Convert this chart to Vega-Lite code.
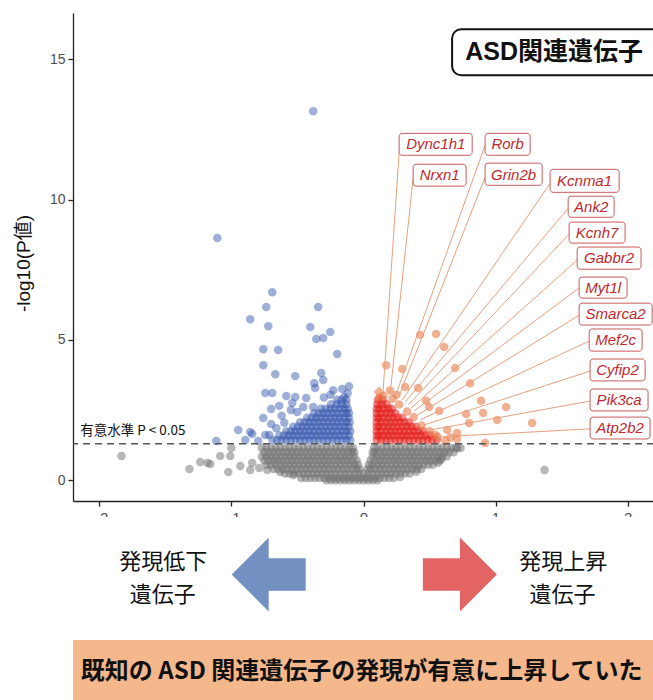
{
  "$schema": "https://vega.github.io/schema/vega-lite/v6.json",
  "padding": {"left": 14, "top": 13, "right": 0, "bottom": 0},
  "background": "white",
  "spacing": 16,
  "bounds": "flush",
  "config": {"view": {"stroke": null}, "font": "Liberation Sans"},
  "datasets": {
    "ns": [
      {"x":-0.77,"y":1.15},{"x":-0.735,"y":1.15},{"x":-0.7,"y":1.15},{"x":-0.665,"y":1.15},{"x":-0.63,"y":1.15},{"x":-0.595,"y":1.15},{"x":-0.56,"y":1.15},{"x":-0.525,"y":1.15},{"x":-0.49,"y":1.15},{"x":-0.455,"y":1.15},{"x":-0.42,"y":1.15},{"x":-0.385,"y":1.15},{"x":-0.35,"y":1.15},{"x":-0.315,"y":1.15},{"x":-0.28,"y":1.15},{"x":-0.245,"y":1.15},{"x":-0.21,"y":1.15},{"x":-0.175,"y":1.15},{"x":-0.14,"y":1.15},{"x":-0.105,"y":1.15},{"x":-0.08,"y":1.15},
      {"x":0.08,"y":1.15},{"x":0.105,"y":1.15},{"x":0.14,"y":1.15},{"x":0.175,"y":1.15},{"x":0.21,"y":1.15},{"x":0.245,"y":1.15},{"x":0.28,"y":1.15},{"x":0.315,"y":1.15},{"x":0.35,"y":1.15},{"x":0.385,"y":1.15},{"x":0.42,"y":1.15},{"x":0.455,"y":1.15},{"x":0.49,"y":1.15},{"x":0.525,"y":1.15},{"x":0.56,"y":1.15},{"x":0.595,"y":1.15},{"x":0.63,"y":1.15},{"x":0.665,"y":1.15},{"x":0.7,"y":1.15},{"x":0.735,"y":1.15},
      {"x":-0.752,"y":1.0},{"x":-0.717,"y":1.0},{"x":-0.682,"y":1.0},{"x":-0.647,"y":1.0},{"x":-0.612,"y":1.0},{"x":-0.577,"y":1.0},{"x":-0.542,"y":1.0},{"x":-0.507,"y":1.0},{"x":-0.472,"y":1.0},{"x":-0.437,"y":1.0},{"x":-0.402,"y":1.0},{"x":-0.367,"y":1.0},{"x":-0.332,"y":1.0},{"x":-0.297,"y":1.0},{"x":-0.262,"y":1.0},{"x":-0.227,"y":1.0},{"x":-0.192,"y":1.0},{"x":-0.157,"y":1.0},{"x":-0.122,"y":1.0},{"x":-0.087,"y":1.0},{"x":-0.07,"y":1.0},
      {"x":0.07,"y":1.0},{"x":0.088,"y":1.0},{"x":0.123,"y":1.0},{"x":0.158,"y":1.0},{"x":0.193,"y":1.0},{"x":0.228,"y":1.0},{"x":0.263,"y":1.0},{"x":0.298,"y":1.0},{"x":0.333,"y":1.0},{"x":0.368,"y":1.0},{"x":0.403,"y":1.0},{"x":0.438,"y":1.0},{"x":0.473,"y":1.0},{"x":0.508,"y":1.0},{"x":0.543,"y":1.0},{"x":0.578,"y":1.0},{"x":0.613,"y":1.0},{"x":0.648,"y":1.0},{"x":0.683,"y":1.0},
      {"x":-0.77,"y":0.85},{"x":-0.735,"y":0.85},{"x":-0.7,"y":0.85},{"x":-0.665,"y":0.85},{"x":-0.63,"y":0.85},{"x":-0.595,"y":0.85},{"x":-0.56,"y":0.85},{"x":-0.525,"y":0.85},{"x":-0.49,"y":0.85},{"x":-0.455,"y":0.85},{"x":-0.42,"y":0.85},{"x":-0.385,"y":0.85},{"x":-0.35,"y":0.85},{"x":-0.315,"y":0.85},{"x":-0.28,"y":0.85},{"x":-0.245,"y":0.85},{"x":-0.21,"y":0.85},{"x":-0.175,"y":0.85},{"x":-0.14,"y":0.85},{"x":-0.105,"y":0.85},{"x":-0.07,"y":0.85},
      {"x":0.07,"y":0.85},{"x":0.105,"y":0.85},{"x":0.14,"y":0.85},{"x":0.175,"y":0.85},{"x":0.21,"y":0.85},{"x":0.245,"y":0.85},{"x":0.28,"y":0.85},{"x":0.315,"y":0.85},{"x":0.35,"y":0.85},{"x":0.385,"y":0.85},{"x":0.42,"y":0.85},{"x":0.455,"y":0.85},{"x":0.49,"y":0.85},{"x":0.525,"y":0.85},{"x":0.56,"y":0.85},{"x":0.595,"y":0.85},{"x":0.63,"y":0.85},
      {"x":-0.752,"y":0.7},{"x":-0.717,"y":0.7},{"x":-0.682,"y":0.7},{"x":-0.647,"y":0.7},{"x":-0.612,"y":0.7},{"x":-0.577,"y":0.7},{"x":-0.542,"y":0.7},{"x":-0.507,"y":0.7},{"x":-0.472,"y":0.7},{"x":-0.437,"y":0.7},{"x":-0.402,"y":0.7},{"x":-0.367,"y":0.7},{"x":-0.332,"y":0.7},{"x":-0.297,"y":0.7},{"x":-0.262,"y":0.7},{"x":-0.227,"y":0.7},{"x":-0.192,"y":0.7},{"x":-0.157,"y":0.7},{"x":-0.122,"y":0.7},{"x":-0.087,"y":0.7},{"x":-0.052,"y":0.7},
      {"x":0.053,"y":0.7},{"x":0.088,"y":0.7},{"x":0.123,"y":0.7},{"x":0.158,"y":0.7},{"x":0.193,"y":0.7},{"x":0.228,"y":0.7},{"x":0.263,"y":0.7},{"x":0.298,"y":0.7},{"x":0.333,"y":0.7},{"x":0.368,"y":0.7},{"x":0.403,"y":0.7},{"x":0.438,"y":0.7},{"x":0.473,"y":0.7},{"x":0.508,"y":0.7},{"x":0.543,"y":0.7},{"x":0.578,"y":0.7},
      {"x":-0.735,"y":0.55},{"x":-0.7,"y":0.55},{"x":-0.665,"y":0.55},{"x":-0.63,"y":0.55},{"x":-0.595,"y":0.55},{"x":-0.56,"y":0.55},{"x":-0.525,"y":0.55},{"x":-0.49,"y":0.55},{"x":-0.455,"y":0.55},{"x":-0.42,"y":0.55},{"x":-0.385,"y":0.55},{"x":-0.35,"y":0.55},{"x":-0.315,"y":0.55},{"x":-0.28,"y":0.55},{"x":-0.245,"y":0.55},{"x":-0.21,"y":0.55},{"x":-0.175,"y":0.55},{"x":-0.14,"y":0.55},{"x":-0.105,"y":0.55},{"x":-0.07,"y":0.55},{"x":-0.04,"y":0.55},
      {"x":0.04,"y":0.55},{"x":0.07,"y":0.55},{"x":0.105,"y":0.55},{"x":0.14,"y":0.55},{"x":0.175,"y":0.55},{"x":0.21,"y":0.55},{"x":0.245,"y":0.55},{"x":0.28,"y":0.55},{"x":0.315,"y":0.55},{"x":0.35,"y":0.55},{"x":0.385,"y":0.55},{"x":0.42,"y":0.55},{"x":0.455,"y":0.55},{"x":0.49,"y":0.55},{"x":0.525,"y":0.55},
      {"x":-0.682,"y":0.4},{"x":-0.647,"y":0.4},{"x":-0.612,"y":0.4},{"x":-0.577,"y":0.4},{"x":-0.542,"y":0.4},{"x":-0.507,"y":0.4},{"x":-0.472,"y":0.4},{"x":-0.437,"y":0.4},{"x":-0.402,"y":0.4},{"x":-0.367,"y":0.4},{"x":-0.332,"y":0.4},{"x":-0.297,"y":0.4},{"x":-0.262,"y":0.4},{"x":-0.227,"y":0.4},{"x":-0.192,"y":0.4},{"x":-0.157,"y":0.4},{"x":-0.122,"y":0.4},{"x":-0.087,"y":0.4},{"x":-0.052,"y":0.4},{"x":-0.03,"y":0.4},
      {"x":0.03,"y":0.4},{"x":0.053,"y":0.4},{"x":0.088,"y":0.4},{"x":0.123,"y":0.4},{"x":0.158,"y":0.4},{"x":0.193,"y":0.4},{"x":0.228,"y":0.4},{"x":0.263,"y":0.4},{"x":0.298,"y":0.4},{"x":0.333,"y":0.4},{"x":0.368,"y":0.4},{"x":0.403,"y":0.4},{"x":0.438,"y":0.4},
      {"x":-0.595,"y":0.24},{"x":-0.56,"y":0.24},{"x":-0.525,"y":0.24},{"x":-0.49,"y":0.24},{"x":-0.455,"y":0.24},{"x":-0.42,"y":0.24},{"x":-0.385,"y":0.24},{"x":-0.35,"y":0.24},{"x":-0.315,"y":0.24},{"x":-0.28,"y":0.24},{"x":-0.245,"y":0.24},{"x":-0.21,"y":0.24},{"x":-0.175,"y":0.24},{"x":-0.14,"y":0.24},{"x":-0.105,"y":0.24},{"x":-0.07,"y":0.24},{"x":-0.035,"y":0.24},{"x":0,"y":0.24},{"x":0.035,"y":0.24},{"x":0.07,"y":0.24},{"x":0.105,"y":0.24},{"x":0.14,"y":0.24},{"x":0.175,"y":0.24},{"x":0.21,"y":0.24},{"x":0.245,"y":0.24},{"x":0.28,"y":0.24},{"x":0.315,"y":0.24},{"x":0.35,"y":0.24},
      {"x":-0.472,"y":0.08},{"x":-0.437,"y":0.08},{"x":-0.402,"y":0.08},{"x":-0.367,"y":0.08},{"x":-0.332,"y":0.08},{"x":-0.297,"y":0.08},{"x":-0.262,"y":0.08},{"x":-0.227,"y":0.08},{"x":-0.192,"y":0.08},{"x":-0.157,"y":0.08},{"x":-0.122,"y":0.08},{"x":-0.087,"y":0.08},{"x":-0.052,"y":0.08},{"x":-0.017,"y":0.08},{"x":0.018,"y":0.08},{"x":0.053,"y":0.08},{"x":0.088,"y":0.08},{"x":0.123,"y":0.08},{"x":0.158,"y":0.08},{"x":0.193,"y":0.08},{"x":0.228,"y":0.08},
      {"x":-0.28,"y":0},{"x":-0.245,"y":0},{"x":-0.21,"y":0},{"x":-0.175,"y":0},{"x":-0.14,"y":0},{"x":-0.105,"y":0},{"x":-0.07,"y":0},{"x":-0.035,"y":0},{"x":0,"y":0},{"x":0.035,"y":0},{"x":0.07,"y":0},{"x":0.105,"y":0},
      {"x":-1.833,"y":0.865},{"x":-1.318,"y":0.402},{"x":-1.182,"y":0.616},{"x":-1.16,"y":0.58},{"x":-1.236,"y":0.652},{"x":-1.085,"y":0.865},{"x":-1.009,"y":0.865},{"x":-1.001,"y":1.15},{"x":-1.024,"y":0.295},{"x":-0.933,"y":0.509},{"x":-0.843,"y":0.616},{"x":-0.858,"y":0.367},{"x":-0.79,"y":0.438},{"x":-0.729,"y":0.367},{"x":-0.631,"y":0.295},{"x":-0.532,"y":0.189},
      {"x":1.371,"y":0.367},{"x":0.565,"y":0.62},{"x":0.277,"y":0.117},{"x":0.4,"y":0.3},{"x":0.59,"y":0.75},{"x":0.71,"y":1.15}
    ],
    "down": [
      {"x":-0.69,"y":1.43},{"x":-0.655,"y":1.43},{"x":-0.62,"y":1.43},{"x":-0.585,"y":1.43},{"x":-0.55,"y":1.43},{"x":-0.515,"y":1.43},{"x":-0.48,"y":1.43},{"x":-0.445,"y":1.43},{"x":-0.41,"y":1.43},{"x":-0.375,"y":1.43},{"x":-0.34,"y":1.43},{"x":-0.305,"y":1.43},{"x":-0.27,"y":1.43},{"x":-0.235,"y":1.43},{"x":-0.2,"y":1.43},{"x":-0.165,"y":1.43},{"x":-0.13,"y":1.43},{"x":-0.1,"y":1.43},
      {"x":-0.637,"y":1.59},{"x":-0.602,"y":1.59},{"x":-0.567,"y":1.59},{"x":-0.532,"y":1.59},{"x":-0.497,"y":1.59},{"x":-0.462,"y":1.59},{"x":-0.427,"y":1.59},{"x":-0.392,"y":1.59},{"x":-0.357,"y":1.59},{"x":-0.322,"y":1.59},{"x":-0.287,"y":1.59},{"x":-0.252,"y":1.59},{"x":-0.217,"y":1.59},{"x":-0.182,"y":1.59},{"x":-0.147,"y":1.59},{"x":-0.112,"y":1.59},
      {"x":-0.585,"y":1.75},{"x":-0.55,"y":1.75},{"x":-0.515,"y":1.75},{"x":-0.48,"y":1.75},{"x":-0.445,"y":1.75},{"x":-0.41,"y":1.75},{"x":-0.375,"y":1.75},{"x":-0.34,"y":1.75},{"x":-0.305,"y":1.75},{"x":-0.27,"y":1.75},{"x":-0.235,"y":1.75},{"x":-0.2,"y":1.75},{"x":-0.165,"y":1.75},{"x":-0.13,"y":1.75},{"x":-0.1,"y":1.75},
      {"x":-0.532,"y":1.91},{"x":-0.497,"y":1.91},{"x":-0.462,"y":1.91},{"x":-0.427,"y":1.91},{"x":-0.392,"y":1.91},{"x":-0.357,"y":1.91},{"x":-0.322,"y":1.91},{"x":-0.287,"y":1.91},{"x":-0.252,"y":1.91},{"x":-0.217,"y":1.91},{"x":-0.182,"y":1.91},{"x":-0.147,"y":1.91},{"x":-0.112,"y":1.91},
      {"x":-0.48,"y":2.07},{"x":-0.445,"y":2.07},{"x":-0.41,"y":2.07},{"x":-0.375,"y":2.07},{"x":-0.34,"y":2.07},{"x":-0.305,"y":2.07},{"x":-0.27,"y":2.07},{"x":-0.235,"y":2.07},{"x":-0.2,"y":2.07},{"x":-0.165,"y":2.07},{"x":-0.13,"y":2.07},{"x":-0.105,"y":2.07},
      {"x":-0.427,"y":2.23},{"x":-0.392,"y":2.23},{"x":-0.357,"y":2.23},{"x":-0.322,"y":2.23},{"x":-0.287,"y":2.23},{"x":-0.252,"y":2.23},{"x":-0.217,"y":2.23},{"x":-0.182,"y":2.23},{"x":-0.147,"y":2.23},{"x":-0.112,"y":2.23},
      {"x":-0.375,"y":2.39},{"x":-0.34,"y":2.39},{"x":-0.305,"y":2.39},{"x":-0.27,"y":2.39},{"x":-0.235,"y":2.39},{"x":-0.2,"y":2.39},{"x":-0.165,"y":2.39},{"x":-0.13,"y":2.39},{"x":-0.11,"y":2.39},
      {"x":-0.322,"y":2.55},{"x":-0.287,"y":2.55},{"x":-0.252,"y":2.55},{"x":-0.217,"y":2.55},{"x":-0.182,"y":2.55},{"x":-0.147,"y":2.55},{"x":-0.12,"y":2.55},
      {"x":-0.245,"y":2.71},{"x":-0.2,"y":2.71},{"x":-0.165,"y":2.71},{"x":-0.13,"y":2.71},
      {"x":-0.2,"y":2.87},{"x":-0.165,"y":2.87},{"x":-0.13,"y":2.87},
      {"x":-0.381,"y":13.15},{"x":-1.107,"y":8.63},{"x":-0.691,"y":6.7},{"x":-0.737,"y":6.17},{"x":-0.858,"y":5.74},{"x":-0.721,"y":5.49},{"x":-0.343,"y":6.17},{"x":-0.403,"y":5.46},{"x":-0.358,"y":5.03},{"x":-0.305,"y":5.07},{"x":-0.252,"y":5.28},{"x":-0.759,"y":4.67},{"x":-0.646,"y":4.64},{"x":-0.199,"y":4.5},{"x":-0.759,"y":4.1},{"x":-0.668,"y":3.78},{"x":-0.517,"y":3.71},{"x":-0.32,"y":3.82},{"x":-0.305,"y":3.57},{"x":-0.373,"y":3.46},{"x":-0.366,"y":3.29},{"x":-0.744,"y":3.11},{"x":-0.691,"y":3.11},{"x":-0.229,"y":3.21},{"x":-0.161,"y":3.25},{"x":-0.146,"y":2.97},{"x":-0.585,"y":3.0},{"x":-0.517,"y":2.97},{"x":-0.434,"y":2.93},{"x":-0.638,"y":2.65},{"x":-0.699,"y":2.54},{"x":-0.54,"y":2.75},{"x":-0.502,"y":2.43},{"x":-0.456,"y":2.61},{"x":-0.381,"y":2.61},{"x":-0.759,"y":2.22},{"x":-0.699,"y":2.0},{"x":-0.949,"y":1.79},{"x":-0.858,"y":1.72},{"x":-0.843,"y":1.65},{"x":-0.744,"y":1.61},{"x":-0.714,"y":1.61},{"x":-1.115,"y":1.4},{"x":-0.797,"y":1.4},{"x":-0.895,"y":1.43},
      {"x":-0.62,"y":2.3},{"x":-0.55,"y":2.5},{"x":-0.3,"y":2.95},{"x":-0.25,"y":3.05},{"x":-0.12,"y":3.1},{"x":-0.11,"y":3.35},{"x":-0.6,"y":2.05},{"x":-0.66,"y":1.85}
    ],
    "up": [
      {"x":0.1,"y":1.43},{"x":0.135,"y":1.43},{"x":0.17,"y":1.43},{"x":0.205,"y":1.43},{"x":0.24,"y":1.43},{"x":0.275,"y":1.43},{"x":0.31,"y":1.43},{"x":0.345,"y":1.43},{"x":0.38,"y":1.43},{"x":0.415,"y":1.43},{"x":0.45,"y":1.43},{"x":0.485,"y":1.43},{"x":0.52,"y":1.43},{"x":0.555,"y":1.43},
      {"x":0.1,"y":1.59},{"x":0.118,"y":1.59},{"x":0.153,"y":1.59},{"x":0.188,"y":1.59},{"x":0.223,"y":1.59},{"x":0.258,"y":1.59},{"x":0.293,"y":1.59},{"x":0.328,"y":1.59},{"x":0.363,"y":1.59},{"x":0.398,"y":1.59},{"x":0.433,"y":1.59},{"x":0.468,"y":1.59},{"x":0.503,"y":1.59},
      {"x":0.1,"y":1.75},{"x":0.135,"y":1.75},{"x":0.17,"y":1.75},{"x":0.205,"y":1.75},{"x":0.24,"y":1.75},{"x":0.275,"y":1.75},{"x":0.31,"y":1.75},{"x":0.345,"y":1.75},{"x":0.38,"y":1.75},{"x":0.415,"y":1.75},{"x":0.45,"y":1.75},
      {"x":0.1,"y":1.91},{"x":0.118,"y":1.91},{"x":0.153,"y":1.91},{"x":0.188,"y":1.91},{"x":0.223,"y":1.91},{"x":0.258,"y":1.91},{"x":0.293,"y":1.91},{"x":0.328,"y":1.91},{"x":0.363,"y":1.91},{"x":0.398,"y":1.91},
      {"x":0.1,"y":2.07},{"x":0.135,"y":2.07},{"x":0.17,"y":2.07},{"x":0.205,"y":2.07},{"x":0.24,"y":2.07},{"x":0.275,"y":2.07},{"x":0.31,"y":2.07},{"x":0.345,"y":2.07},
      {"x":0.1,"y":2.23},{"x":0.118,"y":2.23},{"x":0.153,"y":2.23},{"x":0.188,"y":2.23},{"x":0.223,"y":2.23},{"x":0.258,"y":2.23},{"x":0.293,"y":2.23},
      {"x":0.1,"y":2.39},{"x":0.135,"y":2.39},{"x":0.17,"y":2.39},{"x":0.205,"y":2.39},{"x":0.24,"y":2.39},
      {"x":0.1,"y":2.55},{"x":0.118,"y":2.55},{"x":0.153,"y":2.55},{"x":0.188,"y":2.55},{"x":0.215,"y":2.55},
      {"x":0.105,"y":2.71},{"x":0.14,"y":2.71},{"x":0.175,"y":2.71},
      {"x":0.11,"y":2.87},{"x":0.145,"y":2.87}
    ],
    "asd": [
      {"x":0.429,"y":5.18},{"x":0.55,"y":5.21},{"x":0.611,"y":4.75},{"x":0.172,"y":4.1},{"x":0.293,"y":3.96},{"x":0.694,"y":4.0},{"x":0.808,"y":3.46},{"x":0.316,"y":3.32},{"x":0.414,"y":3.29},{"x":0.475,"y":2.83},{"x":0.573,"y":2.47},{"x":0.497,"y":2.61},{"x":0.891,"y":2.83},{"x":1.08,"y":2.61},{"x":0.906,"y":2.4},{"x":0.777,"y":2.36},{"x":1.012,"y":2.15},{"x":0.8,"y":2.04},{"x":1.277,"y":2.04},{"x":0.634,"y":1.79},{"x":0.709,"y":1.68},{"x":0.921,"y":1.33},{"x":0.543,"y":1.61},{"x":0.709,"y":1.47},
      {"x":0.44,"y":1.95},{"x":0.5,"y":1.75},{"x":0.56,"y":1.55},{"x":0.62,"y":1.4},{"x":0.66,"y":1.52},{"x":0.38,"y":2.25},{"x":0.33,"y":2.45},{"x":0.27,"y":2.7},{"x":0.22,"y":2.9},{"x":0.15,"y":3.0},{"x":0.2,"y":3.2},{"x":0.25,"y":3.05},{"x":0.12,"y":2.95}
    ],
    "labels": [
      {"gene":"Dync1h1","lx":0.547,"ly":11.97,"bx1":0.27,"bx2":0.823,"by1":11.58,"by2":12.36,"sx":0.27,"sy":11.69,"ex":0.149,"ey":3.21},
      {"gene":"Rorb","lx":1.092,"ly":11.97,"bx1":0.921,"bx2":1.262,"by1":11.58,"by2":12.36,"sx":0.921,"sy":11.94,"ex":0.24,"ey":2.97},
      {"gene":"Nrxn1","lx":0.577,"ly":10.87,"bx1":0.376,"bx2":0.777,"by1":10.48,"by2":11.26,"sx":0.376,"sy":10.76,"ex":0.202,"ey":3.11},
      {"gene":"Grin2b","lx":1.137,"ly":10.89,"bx1":0.921,"bx2":1.353,"by1":10.51,"by2":11.3,"sx":0.921,"sy":10.8,"ex":0.263,"ey":2.93},
      {"gene":"Kcnma1","lx":1.674,"ly":10.67,"bx1":1.413,"bx2":1.936,"by1":10.26,"by2":11.08,"sx":1.413,"sy":10.58,"ex":0.293,"ey":2.86},
      {"gene":"Ank2","lx":1.724,"ly":9.73,"bx1":1.55,"bx2":1.898,"by1":9.37,"by2":10.12,"sx":1.55,"sy":9.69,"ex":0.316,"ey":2.79},
      {"gene":"Kcnh7","lx":1.769,"ly":8.82,"bx1":1.557,"bx2":1.981,"by1":8.45,"by2":9.2,"sx":1.557,"sy":8.77,"ex":0.338,"ey":2.68},
      {"gene":"Gabbr2","lx":1.86,"ly":7.91,"bx1":1.618,"bx2":2.102,"by1":7.52,"by2":8.31,"sx":1.618,"sy":7.84,"ex":0.361,"ey":2.57},
      {"gene":"Myt1l","lx":1.815,"ly":6.86,"bx1":1.633,"bx2":1.996,"by1":6.49,"by2":7.24,"sx":1.633,"sy":6.85,"ex":0.384,"ey":2.47},
      {"gene":"Smarca2","lx":1.909,"ly":5.92,"bx1":1.633,"bx2":2.186,"by1":5.53,"by2":6.31,"sx":1.633,"sy":5.88,"ex":0.407,"ey":2.32},
      {"gene":"Mef2c","lx":1.909,"ly":4.99,"bx1":1.709,"bx2":2.11,"by1":4.6,"by2":5.39,"sx":1.709,"sy":4.96,"ex":0.429,"ey":2.15},
      {"gene":"Cyfip2","lx":1.924,"ly":3.93,"bx1":1.716,"bx2":2.133,"by1":3.54,"by2":4.32,"sx":1.716,"sy":3.89,"ex":0.459,"ey":1.97},
      {"gene":"Pik3ca","lx":1.936,"ly":2.86,"bx1":1.716,"bx2":2.155,"by1":2.47,"by2":3.25,"sx":1.716,"sy":2.82,"ex":0.505,"ey":1.79},
      {"gene":"Atp2b2","lx":1.943,"ly":1.86,"bx1":1.716,"bx2":2.17,"by1":1.47,"by2":2.25,"sx":1.716,"sy":1.83,"ex":0.558,"ey":1.54}
    ]
  },
  "vconcat": [
    {
      "width": 581,
      "height": 488,
      "layer": [
        {
          "data": {"name": "ns"},
          "mark": {"type": "circle", "size": 72, "opacity": 0.5, "color": "#6f6f6f"},
          "encoding": {
            "x": {"field": "x", "type": "quantitative", "scale": {"domain": [-2.2, 2.2], "nice": false, "zero": false},
              "axis": {"values": [-2, -1, 0, 1, 2], "format": "d", "title": null, "grid": false, "labelFontSize": 15, "labelColor": "#4d4d4d", "labelFont": "Liberation Sans", "tickSize": 5, "labelPadding": 4, "domainColor": "#222", "tickColor": "#222", "domainWidth": 1.3, "tickWidth": 1.3}},
            "y": {"field": "y", "type": "quantitative", "scale": {"domain": [-0.74, 16.65], "nice": false, "zero": false},
              "axis": {"values": [0, 5, 10, 15], "format": "d", "title": "-log10(P値)", "grid": false, "labelFontSize": 14, "labelColor": "#4d4d4d", "labelFont": "Liberation Sans", "tickSize": 5, "labelPadding": 3, "domainColor": "#222", "tickColor": "#222", "domainWidth": 1.3, "tickWidth": 1.3, "titleFontSize": 19, "titleFontWeight": "normal", "titleColor": "#111", "titleFont": "Liberation Sans, Noto Sans CJK JP", "titleX": -40, "titleY": 250, "titleBaseline": "bottom", "titleAngle": 270}}
          }
        },
        {
          "data": {"name": "down"},
          "mark": {"type": "circle", "size": 72, "opacity": 0.45, "color": "#2a4ea8"},
          "encoding": {"x": {"field": "x", "type": "quantitative"}, "y": {"field": "y", "type": "quantitative"}}
        },
        {
          "data": {"name": "up"},
          "mark": {"type": "circle", "size": 72, "opacity": 0.5, "color": "#e3140f"},
          "encoding": {"x": {"field": "x", "type": "quantitative"}, "y": {"field": "y", "type": "quantitative"}}
        },
        {
          "data": {"name": "asd"},
          "mark": {"type": "circle", "size": 72, "opacity": 0.55, "color": "#e8703a"},
          "encoding": {"x": {"field": "x", "type": "quantitative"}, "y": {"field": "y", "type": "quantitative"}}
        },
        {
          "data": {"values": [{"x": 0.119, "y": 3.14}]},
          "mark": {"type": "point", "shape": "diamond", "filled": true, "size": 130, "opacity": 0.55, "color": "#e8703a"},
          "encoding": {"x": {"field": "x", "type": "quantitative"}, "y": {"field": "y", "type": "quantitative"}}
        },
        {
          "data": {"values": [{"y": 1.301}]},
          "mark": {"type": "rule", "strokeDash": [7, 5], "color": "#555555", "strokeWidth": 1.4},
          "encoding": {"y": {"field": "y", "type": "quantitative"}}
        },
        {
          "data": {"values": [{"x": -2.146, "y": 1.77, "t": "有意水準 P < 0.05"}]},
          "mark": {"type": "text", "align": "left", "baseline": "middle", "fontSize": 13.5, "font": "Noto Sans CJK JP", "color": "#111111"},
          "encoding": {"x": {"field": "x", "type": "quantitative"}, "y": {"field": "y", "type": "quantitative"}, "text": {"field": "t"}}
        },
        {
          "data": {"name": "labels"},
          "mark": {"type": "rule", "color": "#e6a07e", "strokeWidth": 1},
          "encoding": {"x": {"field": "sx", "type": "quantitative"}, "y": {"field": "sy", "type": "quantitative"}, "x2": {"field": "ex"}, "y2": {"field": "ey"}}
        },
        {
          "data": {"name": "labels"},
          "mark": {"type": "rect", "fill": "white", "stroke": "#c75b5b", "strokeWidth": 1, "cornerRadius": 3},
          "encoding": {"x": {"field": "bx1", "type": "quantitative"}, "x2": {"field": "bx2"}, "y": {"field": "by1", "type": "quantitative"}, "y2": {"field": "by2"}}
        },
        {
          "data": {"name": "labels"},
          "mark": {"type": "text", "align": "center", "baseline": "middle", "fontSize": 15, "fontStyle": "italic", "font": "Liberation Sans", "color": "#c0282d"},
          "encoding": {"x": {"field": "lx", "type": "quantitative"}, "y": {"field": "ly", "type": "quantitative"}, "text": {"field": "gene"}}
        },
        {
          "data": {"values": [{"bx1": 0.671, "bx2": 2.6, "by1": 14.43, "by2": 16.07}]},
          "mark": {"type": "rect", "fill": "white", "stroke": "#111111", "strokeWidth": 2, "cornerRadius": 9, "clip": true},
          "encoding": {"x": {"field": "bx1", "type": "quantitative"}, "x2": {"field": "bx2"}, "y": {"field": "by1", "type": "quantitative"}, "y2": {"field": "by2"}}
        },
        {
          "data": {"values": [{"lx": 1.444, "ly": 15.25, "t": "ASD関連遺伝子"}]},
          "mark": {"type": "text", "align": "center", "baseline": "middle", "fontSize": 25, "fontWeight": "bold", "font": "Liberation Sans, Noto Sans CJK JP", "color": "#111111"},
          "encoding": {"x": {"field": "lx", "type": "quantitative"}, "y": {"field": "ly", "type": "quantitative"}, "text": {"field": "t"}}
        }
      ]
    },
    {
      "width": 581,
      "height": 183,
      "view": {"fill": "white", "stroke": null},
      "layer": [
        {
          "data": {"values": [{"bx1": -2.2, "bx2": 2.2, "by1": 12.3, "by2": 18.3}]},
          "mark": {"type": "rect", "color": "#f5b88d"},
          "encoding": {
            "x": {"field": "bx1", "type": "quantitative", "scale": {"domain": [-2.2, 2.2], "nice": false, "zero": false}, "axis": null},
            "x2": {"field": "bx2"},
            "y": {"field": "by1", "type": "quantitative", "scale": {"domain": [0, 18.3], "reverse": true, "nice": false, "zero": false}, "axis": null},
            "y2": {"field": "by2"}
          }
        },
        {
          "data": {"values": [{"bx1": -0.014, "by1": 15.45, "t": "既知の ASD 関連遺伝子の発現が有意に上昇していた"}]},
          "mark": {"type": "text", "align": "center", "baseline": "middle", "fontSize": 24, "fontWeight": "bold", "font": "Noto Sans CJK JP", "color": "#111111"},
          "encoding": {"x": {"field": "bx1", "type": "quantitative"}, "y": {"field": "by1", "type": "quantitative"}, "text": {"field": "t"}}
        },
        {
          "data": {"values": [{"bx1": -0.718, "by1": 5.75}]},
          "mark": {"type": "point", "shape": "M -1 0 L 0 -1 L 0 -0.44 L 1 -0.44 L 1 0.44 L 0 0.44 L 0 1 Z", "size": 5476, "filled": true, "opacity": 1, "color": "#7290c2", "strokeWidth": 0},
          "encoding": {"x": {"field": "bx1", "type": "quantitative"}, "y": {"field": "by1", "type": "quantitative"}}
        },
        {
          "data": {"values": [{"bx1": 0.73, "by1": 5.75}]},
          "mark": {"type": "point", "shape": "M 1 0 L 0 -1 L 0 -0.44 L -1 -0.44 L -1 0.44 L 0 0.44 L 0 1 Z", "size": 5476, "filled": true, "opacity": 1, "color": "#e46363", "strokeWidth": 0},
          "encoding": {"x": {"field": "bx1", "type": "quantitative"}, "y": {"field": "by1", "type": "quantitative"}}
        },
        {
          "data": {"values": [
            {"bx1": -1.516, "by1": 4.5, "t": "発現低下"},
            {"bx1": -1.52, "by1": 7.8, "t": "遺伝子"},
            {"bx1": 1.512, "by1": 4.5, "t": "発現上昇"},
            {"bx1": 1.508, "by1": 7.8, "t": "遺伝子"}
          ]},
          "mark": {"type": "text", "align": "center", "baseline": "middle", "fontSize": 22, "font": "Noto Sans CJK JP", "color": "#111111"},
          "encoding": {"x": {"field": "bx1", "type": "quantitative"}, "y": {"field": "by1", "type": "quantitative"}, "text": {"field": "t"}}
        }
      ]
    }
  ]
}
